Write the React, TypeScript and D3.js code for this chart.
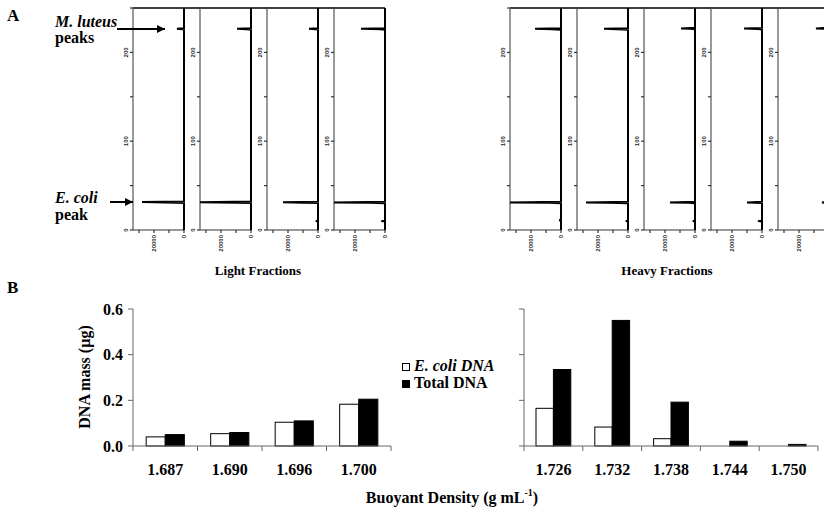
import React from "react";
import * as d3 from "d3";

// ---------- Panel B data ----------
const lightCats = ["1.687", "1.690", "1.696", "1.700"];
const lightEcoli = [0.04, 0.054, 0.104, 0.183];
const lightTotal = [0.05, 0.059, 0.11, 0.205];
const heavyCats = ["1.726", "1.732", "1.738", "1.744", "1.750"];
const heavyEcoli = [0.165, 0.083, 0.032, 0, 0];
const heavyTotal = [0.335, 0.55, 0.192, 0.021, 0.007];
const massTicks = [0, 0.2, 0.4, 0.6];
const seriesKeys = ["ecoli", "total"];

// ---------- Panel A data: [position, intensity] ----------
const posTicks = [0, 50, 100, 150, 200, 250];
const posLabels = [0, 100, 200];
const intTicks = [0, 10000, 20000, 30000];
const intLabels = [0, 20000];

const lightTraces: [number, number][][] = [
  [[0, 0], [30.4, 0], [31, 12000], [31.5, 28000], [32.1, 0], [225.8, 0], [226.5, 4700], [227.2, 0], [250, 0]],
  [[0, 0], [30.3, 0], [30.8, 9000], [31.3, 36000], [32, 0], [225.6, 0], [226.2, 3000], [226.6, 9300], [227.3, 0], [250, 0]],
  [[0, 0], [9.5, 0], [10, 1500], [10.5, 0], [30.4, 0], [30.8, 10000], [31.2, 23300], [31.9, 0], [225.8, 0], [226.5, 6000], [227.2, 0], [250, 0]],
  [[0, 0], [9.5, 0], [10, 2500], [10.5, 0], [30.2, 0], [30.6, 10000], [31, 36000], [31.8, 0], [225.6, 0], [226.1, 3000], [226.5, 16000], [227.3, 0], [250, 0]],
];
const heavyTraces: [number, number][][] = [
  [[0, 0], [10.5, 0], [11, 1200], [11.5, 0], [30.2, 0], [30.6, 8000], [31, 36000], [31.8, 0], [225.6, 0], [226.1, 6000], [226.5, 17300], [227.3, 0], [250, 0]],
  [[0, 0], [9.5, 0], [10, 1500], [10.5, 0], [30.2, 0], [30.6, 13300], [31, 28000], [31.8, 0], [225.6, 0], [226.1, 7300], [226.5, 16000], [227.3, 0], [250, 0]],
  [[0, 0], [9.5, 0], [10, 1500], [10.5, 0], [30.2, 0], [30.6, 4000], [31, 16700], [31.8, 0], [226.1, 0], [226.6, 3000], [227, 9300], [227.8, 0], [250, 0]],
  [[0, 0], [9.5, 0], [10, 2700], [10.5, 0], [30.3, 0], [31, 10000], [31.7, 0], [225.9, 0], [226.4, 2500], [226.8, 12000], [227.6, 0], [250, 0]],
  [[0, 0], [9.5, 0], [10, 1500], [10.5, 0], [30.3, 0], [31, 4700], [31.7, 0], [226.3, 0], [227, 8700], [227.7, 0], [250, 0]],
];

const SERIF = "'Liberation Serif', 'Times New Roman', serif";
const SANS = "'Liberation Sans', Arial, sans-serif";

const W = 824;
const yPos = d3.scaleLinear().domain([0, 250]).range([230, 8]);
const PANEL_W = 51;
const PANEL_STEP = 67;

function Trace({ x0, data }: { x0: number; data: [number, number][] }) {
  const xInt = d3.scaleLinear().domain([34000, 0]).range([x0, x0 + PANEL_W]).clamp(true);
  const line = d3
    .line<[number, number]>()
    .x((d) => xInt(d[1]))
    .y((d) => yPos(d[0]));
  const right = x0 + PANEL_W;
  return (
    <g>
      <line x1={x0} x2={x0} y1={yPos(250)} y2={yPos(0)} stroke="#555" strokeWidth={1.2} />
      {posTicks.map((t) => (
        <line key={"pt" + t} x1={x0 - 3} x2={x0} y1={yPos(t)} y2={yPos(t)} stroke="#333" strokeWidth={1.2} />
      ))}
      {posLabels.map((t) => (
        <text
          key={"pl" + t}
          transform={`translate(${x0 - 5},${yPos(t)}) rotate(-90)`}
          textAnchor="middle"
          fontFamily={SANS}
          fontWeight="bold"
          fontSize={6}
          fill="#222"
        >
          {t}
        </text>
      ))}
      <line x1={x0} x2={right} y1={yPos(0)} y2={yPos(0)} stroke="#333" strokeWidth={1.2} />
      {intTicks.map((t) => (
        <line key={"it" + t} x1={xInt(t)} x2={xInt(t)} y1={yPos(0)} y2={yPos(0) + 3} stroke="#333" strokeWidth={1.2} />
      ))}
      {intLabels
        .filter((t) => xInt(t) + 2 < W - 3)
        .map((t) => (
          <text
            key={"il" + t}
            transform={`translate(${xInt(t) + 2},${yPos(0) + 5}) rotate(-90)`}
            textAnchor="end"
            fontFamily={SANS}
            fontWeight="bold"
            fontSize={6}
            fill="#222"
          >
            {t}
          </text>
        ))}
      <path d={line(data) || ""} fill="none" stroke="#000" strokeWidth={2} strokeLinejoin="miter" />
    </g>
  );
}

function BarGroup({
  cats,
  ecoli,
  total,
  x0,
  x1,
  showLabels,
  yB,
}: {
  cats: string[];
  ecoli: number[];
  total: number[];
  x0: number;
  x1: number;
  showLabels: boolean;
  yB: d3.ScaleLinear<number, number>;
}) {
  const xb = d3.scaleBand().domain(cats).range([x0, x1]).paddingInner(0).paddingOuter(0);
  const xs = d3.scaleBand().domain(seriesKeys).range([0, xb.bandwidth()]).paddingInner(0).paddingOuter(0.69);
  const base = yB(0);
  const bounds = [...cats.map((c) => xb(c) as number), x1];
  return (
    <g>
      {cats.map((c, i) => {
        const bx = xb(c) as number;
        const vals = [ecoli[i], total[i]];
        return (
          <g key={c}>
            {seriesKeys.map((k, j) =>
              vals[j] > 0 ? (
                <rect
                  key={k}
                  x={bx + (xs(k) as number)}
                  y={yB(vals[j])}
                  width={xs.bandwidth()}
                  height={base - yB(vals[j])}
                  fill={j === 0 ? "#fff" : "#000"}
                  stroke="#000"
                  strokeWidth={1}
                />
              ) : null
            )}
            <text
              x={bx + xb.bandwidth() / 2}
              y={475}
              textAnchor="middle"
              fontFamily={SERIF}
              fontWeight="bold"
              fontSize={16}
            >
              {c}
            </text>
          </g>
        );
      })}
      <line x1={x0} x2={x1} y1={base} y2={base} stroke="#666" strokeWidth={1} />
      {bounds.map((b, i) => (
        <line key={"xb" + i} x1={b} x2={b} y1={base} y2={base + 5} stroke="#666" strokeWidth={1} />
      ))}
      <line x1={x0} x2={x0} y1={yB(0.6)} y2={base} stroke="#666" strokeWidth={1} />
      {massTicks.map((t) => (
        <g key={"mt" + t}>
          <line x1={x0 - 5} x2={x0} y1={yB(t)} y2={yB(t)} stroke="#666" strokeWidth={1} />
          {showLabels ? (
            <text
              x={x0 - 10}
              y={yB(t) + 5.5}
              textAnchor="end"
              fontFamily={SERIF}
              fontWeight="bold"
              fontSize={16}
            >
              {t.toFixed(1)}
            </text>
          ) : null}
        </g>
      ))}
    </g>
  );
}

export default function App() {
  const yB = d3.scaleLinear().domain([0, 0.6]).range([446, 309]);
  const lightX = lightTraces.map((_, i) => 133 + i * PANEL_STEP);
  const heavyX = heavyTraces.map((_, i) => 510 + i * PANEL_STEP);
  return (
    <svg
      width={824}
      height={508}
      viewBox="0 0 824 508"
      style={{ position: "absolute", left: 0, top: 0, background: "#fff" }}
    >
      <defs>
        <marker id="arr" viewBox="0 0 10 10" refX="10" refY="5" markerWidth="10" markerHeight="8" markerUnits="userSpaceOnUse" orient="auto">
          <path d="M0,0 L10,5 L0,10 z" fill="#000" />
        </marker>
      </defs>
      <rect x={0} y={0} width={824} height={508} fill="#fff" />

      {/* Panel A */}
      <text x={7} y={21} fontFamily={SERIF} fontWeight="bold" fontSize={17}>A</text>
      <line x1={lightX[0]} x2={lightX[lightX.length - 1] + PANEL_W} y1={8} y2={8} stroke="#000" strokeWidth={1.3} />
      <line x1={heavyX[0]} x2={heavyX[heavyX.length - 1] + PANEL_W} y1={8} y2={8} stroke="#000" strokeWidth={1.3} />
      {lightTraces.map((t, i) => (
        <Trace key={"l" + i} x0={lightX[i]} data={t} />
      ))}
      {heavyTraces.map((t, i) => (
        <Trace key={"h" + i} x0={heavyX[i]} data={t} />
      ))}

      <text x={55} y={27} fontFamily={SERIF} fontWeight="bold" fontStyle="italic" fontSize={16}>M. luteus</text>
      <text x={55} y={43} fontFamily={SERIF} fontWeight="bold" fontSize={16}>peaks</text>
      <line x1={117} x2={165} y1={29} y2={29} stroke="#000" strokeWidth={2} markerEnd="url(#arr)" />
      <text x={55} y={203} fontFamily={SERIF} fontWeight="bold" fontStyle="italic" fontSize={16}>E. coli</text>
      <text x={55} y={220} fontFamily={SERIF} fontWeight="bold" fontSize={16}>peak</text>
      <line x1={110} x2={133} y1={202} y2={202} stroke="#000" strokeWidth={2} markerEnd="url(#arr)" />

      <text x={258} y={275} textAnchor="middle" fontFamily={SERIF} fontWeight="bold" fontSize={13}>Light Fractions</text>
      <text x={667} y={275} textAnchor="middle" fontFamily={SERIF} fontWeight="bold" fontSize={13}>Heavy Fractions</text>

      {/* Panel B */}
      <text x={7} y={293} fontFamily={SERIF} fontWeight="bold" fontSize={17}>B</text>
      <BarGroup cats={lightCats} ecoli={lightEcoli} total={lightTotal} x0={133} x1={391} showLabels={true} yB={yB} />
      <BarGroup cats={heavyCats} ecoli={heavyEcoli} total={heavyTotal} x0={524} x1={818} showLabels={false} yB={yB} />

      <text transform="translate(90,377) rotate(-90)" textAnchor="middle" fontFamily={SERIF} fontWeight="bold" fontSize={16}>
        DNA mass (µg)
      </text>
      <text x={452} y={503} textAnchor="middle" fontFamily={SERIF} fontWeight="bold" fontSize={16}>
        Buoyant Density (g mL
        <tspan fontSize={10} dy={-7}>-1</tspan>
        <tspan dy={7}>)</tspan>
      </text>

      <rect x={402.5} y={363.5} width={7} height={7} fill="#fff" stroke="#000" strokeWidth={1} />
      <text x={414} y={371} fontFamily={SERIF} fontWeight="bold" fontStyle="italic" fontSize={16}>E. coli DNA</text>
      <rect x={402} y={380} width={8} height={8} fill="#000" />
      <text x={414} y={388} fontFamily={SERIF} fontWeight="bold" fontSize={16}>Total DNA</text>
    </svg>
  );
}
